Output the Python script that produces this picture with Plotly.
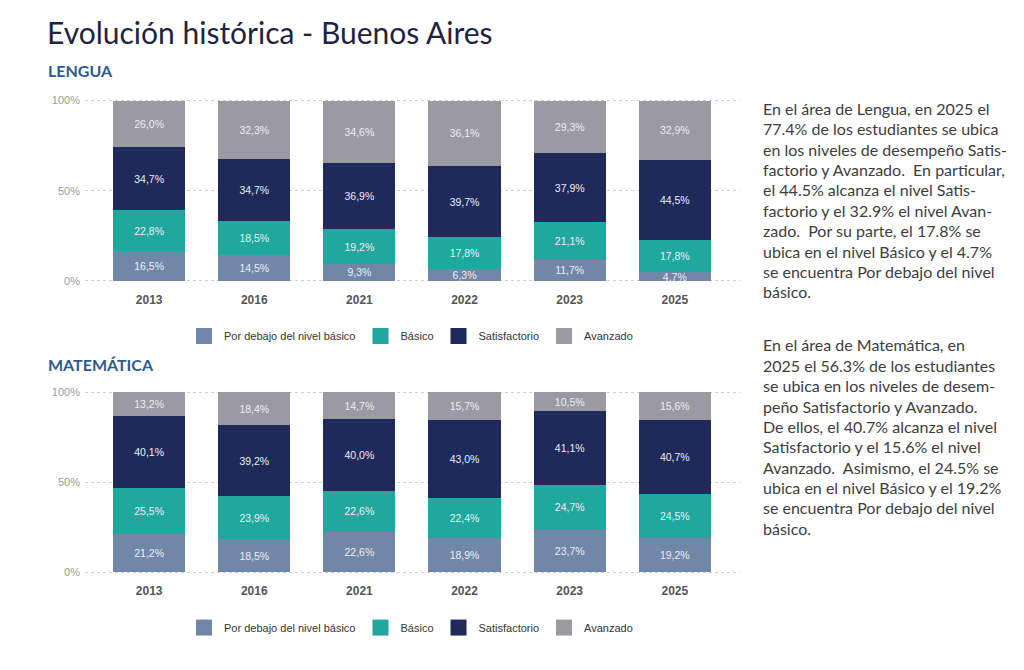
import plotly.graph_objects as go

years = ["2013", "2016", "2021", "2022", "2023", "2025"]
series_names = ["Por debajo del nivel básico", "Básico", "Satisfactorio", "Avanzado"]
series_colors = ["#7187a8", "#1fa89d", "#1f2a5b", "#9b9aa3"]

lengua_below = [16.5, 14.5, 9.3, 6.3, 11.7, 4.7]
lengua_basico = [22.8, 18.5, 19.2, 17.8, 21.1, 17.8]
lengua_satis = [34.7, 34.7, 36.9, 39.7, 37.9, 44.5]
lengua_avanz = [26.0, 32.3, 34.6, 36.1, 29.3, 32.9]

mate_below = [21.2, 18.5, 22.6, 18.9, 23.7, 19.2]
mate_basico = [25.5, 23.9, 22.6, 22.4, 24.7, 24.5]
mate_satis = [40.1, 39.2, 40.0, 43.0, 41.1, 40.7]
mate_avanz = [13.2, 18.4, 14.7, 15.7, 10.5, 15.6]

y_ticks = [0, 50, 100]
y_ticktext = ["0%", "50%", "100%"]

title_text = "Evolución histórica - Buenos Aires"
sub1 = "LENGUA"
sub2 = "MATEMÁTICA"

para1 = [
    "En el área de Lengua, en 2025 el",
    "77.4% de los estudiantes se ubica",
    "en los niveles de desempeño Satis-",
    "factorio y Avanzado.  En particular,",
    "el 44.5% alcanza el nivel Satis-",
    "factorio y el 32.9% el nivel Avan-",
    "zado.  Por su parte, el 17.8% se",
    "ubica en el nivel Básico y el 4.7%",
    "se encuentra Por debajo del nivel",
    "básico.",
]
para2 = [
    "En el área de Matemática, en",
    "2025 el 56.3% de los estudiantes",
    "se ubica en los niveles de desem-",
    "peño Satisfactorio y Avanzado.",
    "De ellos, el 40.7% alcanza el nivel",
    "Satisfactorio y el 15.6% el nivel",
    "Avanzado.  Asimismo, el 24.5% se",
    "ubica en el nivel Básico y el 19.2%",
    "se encuentra Por debajo del nivel",
    "básico.",
]

W, H = 1024, 670
def py(pix):
    return 1 - pix / H
def px(pix):
    return pix / W

fig = go.Figure()

groups = [
    ([lengua_below, lengua_basico, lengua_satis, lengua_avanz], "x", "y", "legend"),
    ([mate_below, mate_basico, mate_satis, mate_avanz], "x2", "y2", "legend2"),
]
for vals, xa, ya, lg in groups:
    for name, col, v in zip(series_names, series_colors, vals):
        fig.add_trace(go.Bar(
            x=years, y=v, name=name, marker=dict(color=col, line=dict(width=0)),
            xaxis=xa, yaxis=ya, showlegend=False,
            texttemplate="%{y:.1f}%", textposition="inside",
            insidetextanchor="middle", constraintext="none",
            textfont=dict(family="Liberation Sans, Arial", size=10.5, color="#eceef4"),
            hoverinfo="skip",
        ))
    # legend entries with larger square keys
    for name, col in zip(series_names, series_colors):
        fig.add_trace(go.Scatter(
            x=[None], y=[None], name=name, mode="markers",
            marker=dict(symbol="square", size=18, color=col),
            xaxis=xa, yaxis=ya, legend=lg, showlegend=True, hoverinfo="skip",
        ))

# pixel mapping: 0% at 280 / 576, 100% at 97 / 393, with small padding so edge gridlines show
pad = 0.6
unit = 183 / 100.0
xdom = [px(85), px(740)]
xr = [-0.61, 5.62]
axis_x = dict(domain=xdom, range=xr, type="category", showgrid=False, zeroline=False,
              showline=False, ticks="", ticklabelstandoff=9,
              tickfont=dict(family="Liberation Sans, Arial", size=12, color="#555555", weight="bold"))
axis_y = dict(range=[-pad, 100 + pad], tickvals=y_ticks, ticktext=y_ticktext, showgrid=True,
              gridcolor="#cfcfcf", griddash="dot", gridwidth=1, zeroline=False, showline=False,
              ticks="", ticklabelstandoff=4,
              tickfont=dict(family="Liberation Sans, Arial", size=11, color="#9a9a9a"))

def ydom(top, bottom):
    return [py(bottom + pad * unit), py(top - pad * unit)]

leg_common = dict(orientation="h", xanchor="center", yanchor="middle",
                  font=dict(family="Liberation Sans, Arial", size=11, color="#333333"),
                  traceorder="normal", bgcolor="rgba(0,0,0,0)", itemsizing="trace")

fig.update_layout(
    width=W, height=H, margin=dict(l=0, r=0, t=0, b=0),
    paper_bgcolor="white", plot_bgcolor="white",
    barmode="stack", bargap=0.314, separators=",.",
    uniformtext=dict(minsize=10.5, mode="show"),
    xaxis=dict(axis_x, anchor="y"),
    yaxis=dict(axis_y, domain=ydom(97, 280), anchor="x"),
    xaxis2=dict(axis_x, anchor="y2"),
    yaxis2=dict(axis_y, domain=ydom(393, 576), anchor="x2"),
    legend=dict(leg_common, x=px(411), y=py(336)),
    legend2=dict(leg_common, x=px(411), y=py(632)),
    showlegend=True,
)

ann = []
ann.append(dict(text=title_text, x=px(45), y=py(27), xref="paper", yref="paper",
                xanchor="left", yanchor="middle", showarrow=False,
                font=dict(family="Lato", size=30, color="#1e2440")))
ann.append(dict(text="<b>" + sub1 + "</b>", x=px(46), y=py(66), xref="paper", yref="paper",
                xanchor="left", yanchor="middle", showarrow=False,
                font=dict(family="Lato", size=16, color="#2c5b8c")))
ann.append(dict(text="<b>" + sub2 + "</b>", x=px(46), y=py(365), xref="paper", yref="paper",
                xanchor="left", yanchor="middle", showarrow=False,
                font=dict(family="Lato", size=16, color="#2c5b8c")))

spacing = 20.7
for start, para in [(105, para1), (345, para2)]:
    for i, line in enumerate(para):
        ann.append(dict(text=line, x=px(761), y=py(start + i * spacing), xref="paper", yref="paper",
                        xanchor="left", yanchor="middle", showarrow=False,
                        font=dict(family="Lato", size=16, color="#3d3d3d")))

fig.update_layout(annotations=ann)

fig.write_html("out.html")
